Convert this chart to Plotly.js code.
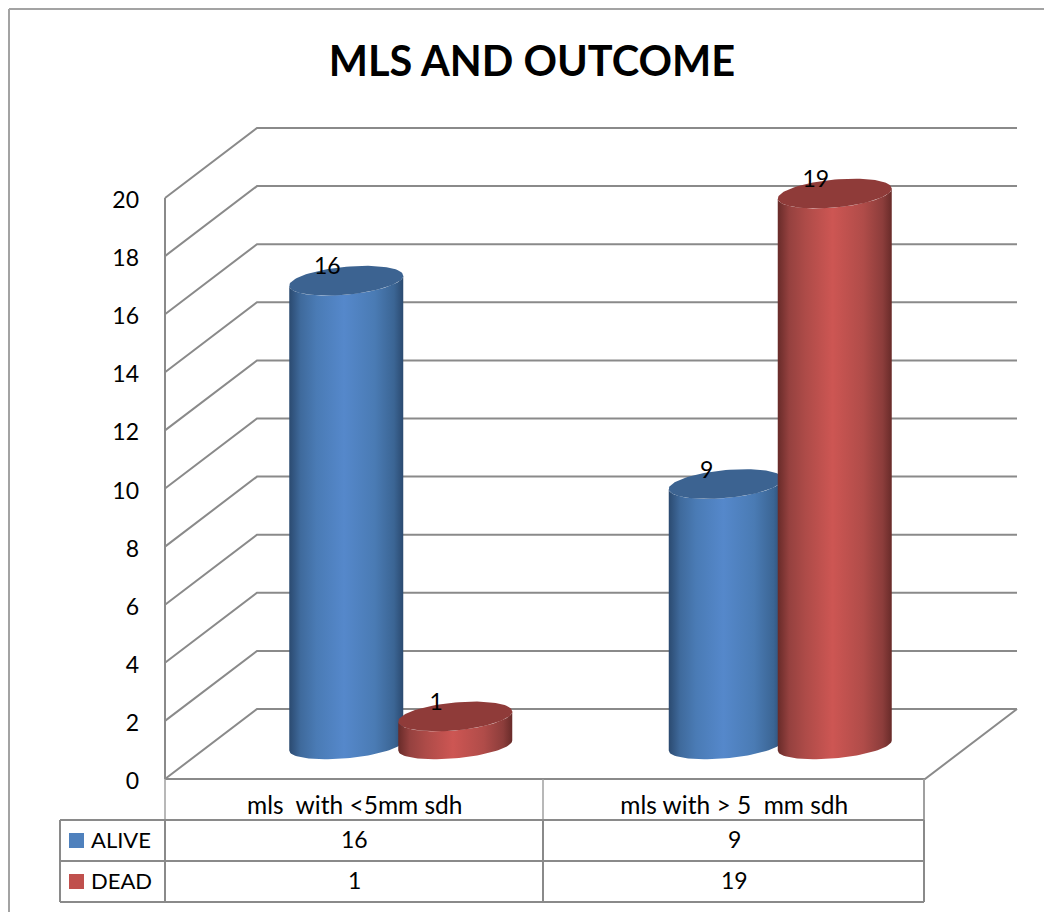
<!DOCTYPE html>
<html>
<head>
<meta charset="utf-8">
<script src="https://cdn.plot.ly/plotly-3.0.1.min.js"></script>
<style>html,body{margin:0;padding:0;background:#fff}#chart{width:1044px;height:912px}</style>
</head>
<body>
<div id="chart"></div>
<script>
// Chart content
const chartTitle = 'MLS AND OUTCOME';
const categories = ['mls\u00A0\u00A0with <5mm sdh', 'mls with > 5\u00A0\u00A0mm sdh'];
const alive = [16, 9];
const dead = [1, 19];
const seriesNames = ['ALIVE', 'DEAD'];
const yTicks = [0, 2, 4, 6, 8, 10, 12, 14, 16, 18, 20];

// Colours
const keyColors = ['#4f81bd', '#c0504d'];
const capColors = ['#3c6391', '#8f3b39'];
const bodyScales = [
  [[0, '#2b4a70'], [0.1, '#3f6a9c'], [0.24, '#4a7bb5'], [0.48, '#5588cb'], [0.75, '#4a7bb4'], [0.92, '#3b6594'], [1, '#2b4a70']],
  [[0, '#682b29'], [0.1, '#95413f'], [0.24, '#ad4b48'], [0.48, '#cd5653'], [0.75, '#b04c49'], [0.92, '#8c3d3b'], [1, '#682b29']]
];
const wallColor = '#8a8a8a';
const fontFamily = 'Lato, Carlito, sans-serif';

// Page geometry: one full-bleed axis pair, scaled so that both axes stay linear in the data
const W = 1044, H = 912;
const originX = 165, originY = 779, catWidth = 379.5, unitHeight = 29.05;
const depthX = 92, depthY = 70;
const toX = px => (px - originX) / catWidth;
const toV = py => (originY - py) / unitHeight;
const dX = px => px / catWidth;
const dV = px => px / unitHeight;

// Walls and floor of the 3D box
const gridX = [], gridY = [];
yTicks.forEach(t => {
  gridX.push(0, dX(depthX), toX(1017), null);
  gridY.push(t, t + dV(depthY), t + dV(depthY), null);
});
gridX.push(0, 0, null, 0, toX(925), toX(1017));
gridY.push(0, 20, null, 0, 0, dV(depthY));
const wallTrace = {
  x: gridX, y: gridY, mode: 'lines', hoverinfo: 'skip', showlegend: false,
  line: {color: wallColor, width: 2}
};

// Cylinder geometry: the cap is seen slightly more open than the base
const radiusX = dX(57), tiltV = dV(5), baseRadiusV = dV(12.8), capRadiusV = dV(14), groupOffset = dX(54.5);
const floorX = dX(46), floorV = dV(33.5);
const ellipsePoint = (cx, cy, rv, t) => [cx + radiusX * Math.cos(t), cy + tiltV * Math.cos(t) + rv * Math.sin(t)];

function cylinderTraces(catIndex, seriesIndex, value) {
  const cx = catIndex + 0.5 + floorX + (seriesIndex === 0 ? -groupOffset : groupOffset);
  const yBase = floorV, yTop = floorV + value;
  const steps = 48, bx = [], by = [], tx = [], ty = [];
  for (let i = 0; i <= steps; i++) {
    const [x, y] = ellipsePoint(cx, yBase, baseRadiusV, Math.PI + Math.PI * i / steps);
    bx.push(x); by.push(y);
  }
  for (let i = steps; i >= 0; i--) {
    const [x, y] = ellipsePoint(cx, yTop, capRadiusV, Math.PI + Math.PI * i / steps);
    bx.push(x); by.push(y);
  }
  for (let i = 0; i <= steps * 2; i++) {
    const [x, y] = ellipsePoint(cx, yTop, capRadiusV, Math.PI * i / steps);
    tx.push(x); ty.push(y);
  }
  const body = {
    x: bx, y: by, mode: 'lines', fill: 'toself', hoverinfo: 'skip', showlegend: false,
    line: {width: 0},
    fillgradient: {type: 'horizontal', colorscale: bodyScales[seriesIndex], start: cx - radiusX, stop: cx + radiusX}
  };
  const cap = {
    x: tx, y: ty, mode: 'lines', fill: 'toself', fillcolor: capColors[seriesIndex], hoverinfo: 'skip', showlegend: false,
    line: {width: 0}
  };
  return [body, cap];
}

const seriesValues = [alive, dead];
const cylinders = [];
categories.forEach((_, c) => {
  seriesValues.forEach((vals, s) => { cylinders.push(...cylinderTraces(c, s, vals[c])); });
});

// Value labels sitting on each cylinder's cap
const labelX = [], labelY = [], labelText = [];
seriesValues.forEach((vals, s) => vals.forEach((v, c) => {
  labelX.push(c + 0.5 + floorX + (s === 0 ? -groupOffset : groupOffset) - dX(19));
  labelY.push(floorV + v + dV(12));
  labelText.push(String(v));
}));
const labelTrace = {
  x: labelX, y: labelY, text: labelText, mode: 'text', textposition: 'middle center', hoverinfo: 'skip', showlegend: false,
  textfont: {family: fontFamily, size: 23, color: '#000'}
};

// Data table below the plot floor
const tableColumns = [60, 165, 543, 924];
const tableRows = [820, 861, 902];
const line = (x0, y0, x1, y1, width, color) => ({
  type: 'line', xref: 'paper', yref: 'paper',
  x0: x0 / W, x1: x1 / W, y0: 1 - y0 / H, y1: 1 - y1 / H,
  line: {color: color || wallColor, width: width || 2}
});
const shapes = [
  line(9, 9, 9, H, 2, '#a3a3a3'),
  line(9, 9, W, 9, 2, '#a3a3a3'),
  line(165, 779, 165, 820, 1.5, '#a0a0a0'),
  line(543, 779, 543, 820, 1.5, '#a0a0a0'),
  line(924, 779, 924, 820, 2, '#a0a0a0')
];
tableRows.forEach(r => shapes.push(line(60, r, 924, r)));
tableColumns.forEach(c => shapes.push(line(c, 820, c, 902)));

const annotations = [];
seriesNames.forEach((name, i) => {
  const rowMid = (tableRows[i] + tableRows[i + 1]) / 2;
  shapes.push({
    type: 'rect', xref: 'paper', yref: 'paper', line: {width: 0}, fillcolor: keyColors[i],
    x0: 69 / W, x1: 84 / W, y0: 1 - (rowMid + 7.5) / H, y1: 1 - (rowMid - 7.5) / H
  });
  annotations.push({
    xref: 'paper', yref: 'paper', x: 89 / W, y: 1 - (rowMid - 1.5) / H, xanchor: 'left', yanchor: 'middle',
    text: name, showarrow: false, font: {family: fontFamily, size: 22, color: '#000'}
  });
  seriesValues[i].forEach((v, c) => annotations.push({
    xref: 'x', yref: 'paper', x: c + 0.5, y: 1 - (rowMid - 1.5) / H, xanchor: 'center', yanchor: 'middle',
    text: String(v), showarrow: false, font: {family: fontFamily, size: 23, color: '#000'}
  }));
});

const layout = {
  width: W, height: H,
  margin: {l: 0, r: 0, t: 0, b: 0},
  paper_bgcolor: '#fff', plot_bgcolor: '#fff',
  showlegend: false,
  title: {
    text: '<b>' + chartTitle + '</b>',
    x: 532 / W, xanchor: 'center', y: 1 - 61 / H, yanchor: 'middle',
    font: {family: fontFamily, size: 41.5, color: '#000'}
  },
  xaxis: {
    range: [toX(0), toX(W)], anchor: 'free', position: 1 - originY / H,
    tickmode: 'array', tickvals: categories.map((_, i) => i + 0.5), ticktext: categories,
    tickfont: {family: fontFamily, size: 24.5, color: '#000'},
    ticks: '', showgrid: false, zeroline: false, showline: false, ticklabelstandoff: 9, fixedrange: true
  },
  yaxis: {
    range: [toV(H), toV(0)], anchor: 'free', position: originX / W,
    tickmode: 'array', tickvals: yTicks, ticktext: yTicks.map(String),
    tickfont: {family: fontFamily, size: 23, color: '#000'},
    ticks: '', showgrid: false, zeroline: false, showline: false, ticklabelstandoff: 26, ticklabelshift: 2, fixedrange: true
  },
  shapes, annotations
};

Plotly.newPlot('chart', [wallTrace, ...cylinders, labelTrace], layout, {displayModeBar: false, staticPlot: true});
</script>
</body>
</html>
